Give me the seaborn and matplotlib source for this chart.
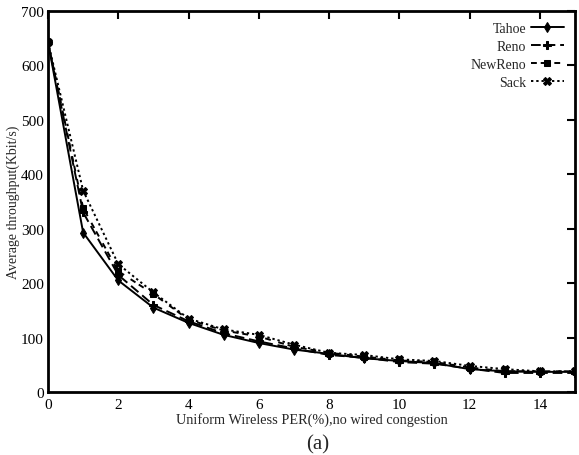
import matplotlib
matplotlib.use("Agg")
import matplotlib.pyplot as plt
import seaborn as sns
import pandas as pd

per = list(range(16))
tahoe = [643, 293, 205, 155, 127, 105, 90, 78, 70, 62, 57, 53, 42, 38, 37, 37]
reno = [643, 330, 215, 160, 130, 108, 93, 80, 68, 63, 55, 52, 43, 35, 35, 35]
newreno = [643, 338, 222, 180, 133, 113, 102, 83, 72, 65, 58, 55, 45, 38, 38, 38]
sack = [643, 370, 235, 183, 135, 115, 105, 87, 72, 68, 60, 57, 48, 42, 38, 38]
series = {"Tahoe": tahoe, "Reno": reno, "NewReno": newreno, "Sack": sack}
xticks = [0, 2, 4, 6, 8, 10, 12, 14]
yticks = [0, 100, 200, 300, 400, 500, 600, 700]

sns.set_theme(style="white")
plt.rcParams['font.family'] = ['Liberation Serif', 'DejaVu Serif']

fig = plt.figure(figsize=(5.79, 4.56), dpi=100)
ax = fig.add_axes([48/579, 63/456, 527/579, 381/456])

styles = {
    "Tahoe": dict(ls="-", marker="d", ms=5),
    "Reno": dict(ls=(0, (5, 2.5)), marker="P", ms=6),
    "NewReno": dict(ls=(0, (3, 2, 3, 4)), marker="s", ms=5),
    "Sack": dict(ls=(0, (1.2, 1.5)), marker="X", ms=6),
}
for name, vals in series.items():
    df = pd.DataFrame({"x": per, "y": vals})
    st = styles[name]
    sns.lineplot(data=df, x="x", y="y", ax=ax, color="black", lw=1.4,
                 linestyle=st["ls"], marker=st["marker"], markersize=st["ms"],
                 markeredgecolor="black", markerfacecolor="black", label=name)

ax.set_xlim(0, 15)
ax.set_ylim(0, 700)
ax.set_xticks(xticks)
ax.set_yticks(yticks)
ax.tick_params(direction="in", length=6, width=1.5, top=True, right=True,
               labelsize=11, pad=3, colors="black")
ax.tick_params(axis="x", pad=4)
for sp in ax.spines.values():
    sp.set_linewidth(2)
    sp.set_color("black")
ax.set_xlabel("Uniform Wireless PER(%),no wired congestion", fontsize=10.3, labelpad=1)
ax.set_ylabel("Average throughput(Kbit/s)", fontsize=10, labelpad=1)
leg = ax.legend(loc="upper right", frameon=False, markerfirst=False, fontsize=10,
                handlelength=2.4, handletextpad=0.3, labelspacing=0.35,
                borderaxespad=0.4)
for t in leg.get_texts():
    t.set_ha("right")
fig.text(318/579, 1 - 445/456, "(a)", ha="center", va="center", fontsize=15)
fig.savefig("out.png", dpi=100, facecolor="white")
